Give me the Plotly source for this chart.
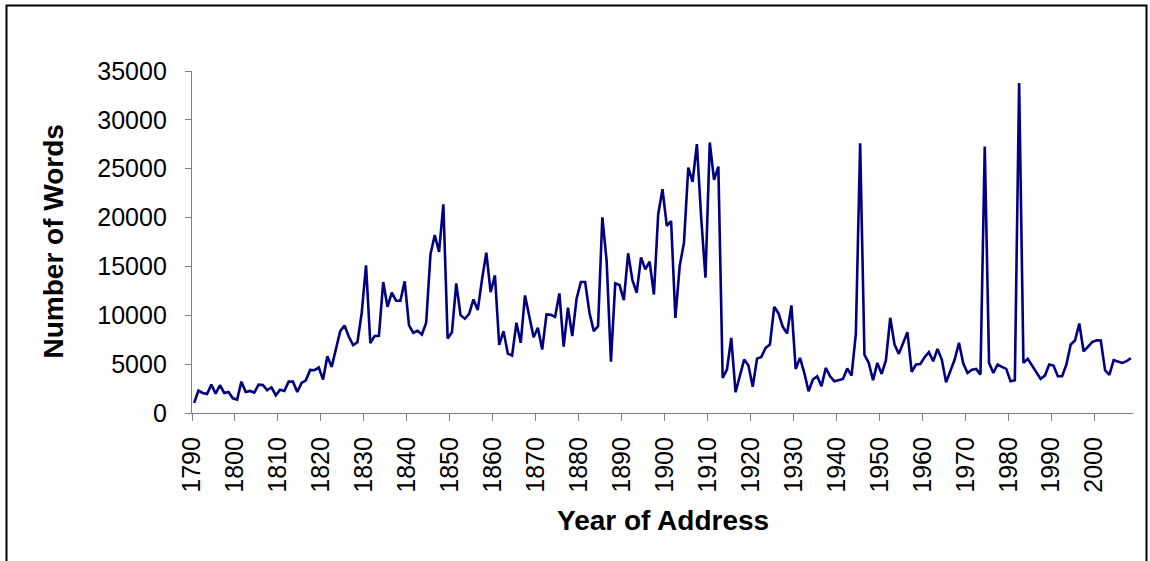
import plotly.graph_objects as go

first_year = 1790
last_year = 2008
years = list(range(first_year, last_year + 1))

words = [
    1030, 2290, 2050, 1950, 2900, 1980, 2840, 2050, 2150, 1500,
    1370, 3210, 2150, 2260, 2090, 2900, 2870, 2330, 2630, 1810,
    2390, 2260, 3210, 3210, 2150, 3080, 3350, 4410, 4380, 4650,
    3420, 5810, 4720, 6500, 8380, 8960, 7800, 6940, 7250, 10260,
    15120, 7150, 7870, 7900, 13400, 10870, 12310, 11490, 11490, 13470,
    8960, 8210, 8410, 8040, 9230, 16240, 18220, 16480, 21360, 7620,
    8270, 13260, 10010, 9640, 10150, 11620, 10530, 13670, 16410, 12370,
    14080, 6970, 8380, 6080, 5880, 9230, 7180, 12030, 9910, 7760,
    8720, 6490, 10080, 10050, 9840, 12240, 6800, 10770, 7870, 11690,
    13400, 13400, 10260, 8380, 8890, 20030, 15560, 5260, 13260, 13090,
    11550, 16340, 13600, 12310, 15930, 14700, 15490, 12130, 20340, 22900,
    19140, 19650, 9740, 15040, 17430, 25120, 23650, 27510, 20000, 13840,
    27690, 23860, 25220, 3590, 4440, 7690, 2120, 3700, 5470, 4850,
    2680, 5570, 5740, 6660, 7010, 10870, 10190, 8820, 8130, 11010,
    4510, 5640, 4100, 2220, 3420, 3760, 2730, 4610, 3760, 3250,
    3350, 3490, 4550, 3830, 8130, 27600, 5980, 5130, 3350, 5130,
    4000, 5400, 9740, 7010, 6050, 7180, 8270, 4200, 4960, 5020,
    5710, 6220, 5300, 6560, 5470, 3140, 4270, 5470, 7180, 5060,
    4100, 4440, 4510, 3930, 27280, 5130, 4100, 4960, 4720, 4510,
    3250, 3350, 33770, 5130, 5540, 4850, 4170, 3490, 3830, 4960,
    4850, 3760, 3760, 4960, 7010, 7420, 9160, 6320, 6770, 7250,
    7450, 7420, 4380, 3900, 5400, 5260, 5130, 5300, 5610,
]

tick_labels = ["1790", "1800", "1810", "1820", "1830", "1840", "1850", "1860",
               "1870", "1880", "1890", "1900", "1910", "1920", "1930", "1940",
               "1950", "1960", "1970", "1980", "1990", "2000"]
tick_positions = [int(t) - 0.5 for t in tick_labels]

y_ticks = [0, 5000, 10000, 15000, 20000, 25000, 30000, 35000]

fig = go.Figure()
fig.add_trace(go.Scatter(
    x=years, y=words, mode="lines",
    line=dict(color="#000080", width=2.6),
    showlegend=False, hoverinfo="x+y",
))

W, H = 1150, 561
L, R, T, B = 192, 17, 71, 148
pw = W - L - R
ph = H - T - B

font_family = "Liberation Sans, Arial, sans-serif"

fig.update_layout(
    width=W, height=H,
    margin=dict(l=L, r=R, t=T, b=B, pad=0),
    paper_bgcolor="white", plot_bgcolor="white",
    font=dict(family=font_family, color="black"),
    xaxis=dict(
        range=[first_year - 0.5, last_year + 0.5],
        tickmode="array", tickvals=tick_positions, ticktext=tick_labels,
        tickangle=-90, ticks="outside", ticklen=7, tickcolor="#808080", tickwidth=1,
        showline=True, linecolor="#808080", linewidth=1.3,
        showgrid=False, zeroline=False,
        tickfont=dict(size=25, family=font_family),
        ticklabelstandoff=6,
    ),
    yaxis=dict(
        range=[0, 35000],
        tickmode="array", tickvals=y_ticks, ticktext=[str(v) for v in y_ticks],
        ticks="outside", ticklen=6, tickcolor="#808080", tickwidth=1,
        showline=True, linecolor="#808080", linewidth=1.3,
        showgrid=False, zeroline=False,
        tickfont=dict(size=25, family=font_family),
        ticklabelstandoff=13,
    ),
    annotations=[
        dict(text="<b>Year of Address</b>", xref="paper", yref="paper",
             x=0.5, y=-(521 - 413.3) / ph, xanchor="center", yanchor="middle",
             showarrow=False, font=dict(size=28, family=font_family)),
        dict(text="<b>Number of Words</b>", xref="paper", yref="paper",
             x=(52.5 - L) / pw, y=0.5, xanchor="center", yanchor="middle",
             textangle=-90, showarrow=False, font=dict(size=28, family=font_family)),
    ],
    shapes=[
        dict(type="rect", xref="paper", yref="paper",
             x0=(6.5 - L) / pw, x1=(1146.5 - L) / pw,
             y0=(T + ph - 600) / ph, y1=(T + ph - 5.5) / ph,
             line=dict(color="black", width=2), fillcolor="rgba(0,0,0,0)", layer="below"),
    ],
)

fig.write_html(
    "out.html",
    config={"displayModeBar": False},
    post_script="document.body.style.margin='0';document.body.style.overflow='hidden';",
)
